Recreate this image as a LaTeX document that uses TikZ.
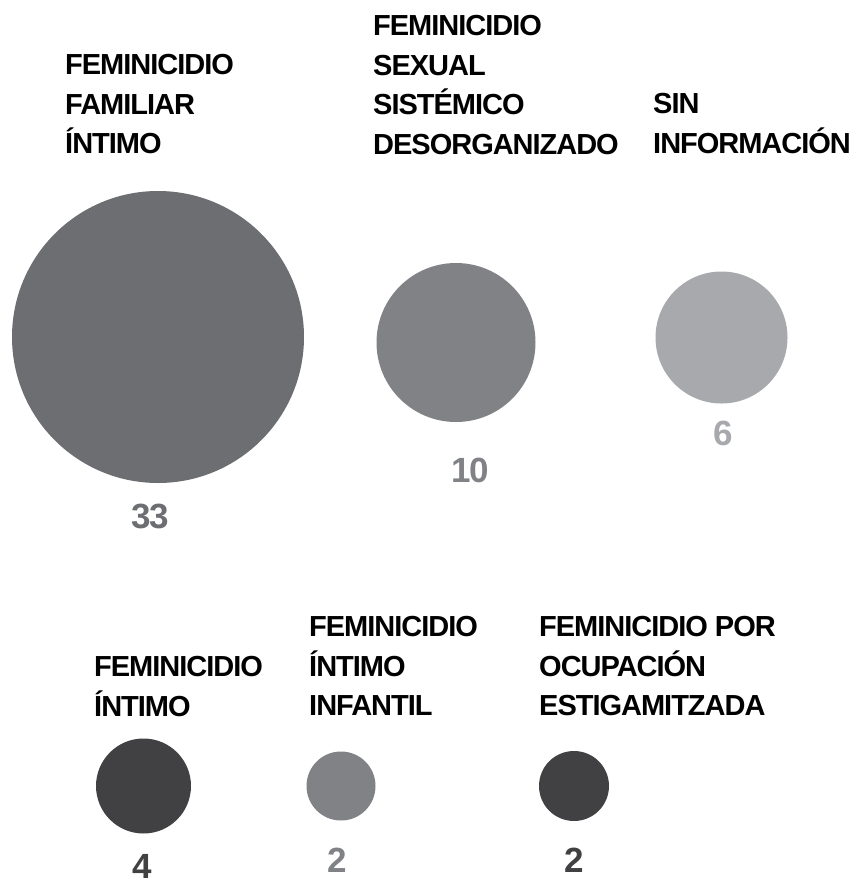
\documentclass[tikz,border=0pt]{standalone}
\usepackage{fontspec}
\setmainfont{Liberation Sans}
\newfontfamily\tightfont[LetterSpace=-3.5]{Liberation Sans}
\definecolor{gA}{HTML}{6D6E71}
\definecolor{gB}{HTML}{808285}
\definecolor{gC}{HTML}{A7A9AC}
\definecolor{gD}{HTML}{414042}
\begin{document}
\begin{tikzpicture}[x=1pt,y=-1pt,
  bubble/.style={circle,inner sep=0pt,outer sep=0pt,draw=none},
  label/.style={anchor=north west,inner sep=0pt,align=left,text=black,
    font=\tightfont\fontsize{29}{39.5}\selectfont\bfseries},
  count/.style={anchor=base,inner sep=0pt,font=\tightfont\fontsize{35}{40}\selectfont\bfseries}]
\useasboundingbox (0,0) rectangle (855,884);
% circles
\node[bubble,fill=gA,minimum size=292pt] (cA) at (158,337) {};
\node[bubble,fill=gB,minimum size=159pt] (cB) at (456,342.5) {};
\node[bubble,fill=gC,minimum size=132pt] (cC) at (721.5,337.5) {};
\node[bubble,fill=gD,minimum size=95pt] (cD) at (143.5,786) {};
\node[bubble,fill=gB,minimum size=69pt] (cE) at (341,786) {};
\node[bubble,fill=gD,minimum size=70pt] (cF) at (574,786) {};
% labels
\node[label] (tA) at (65,54.5) {FEMINICIDIO\\FAMILIAR\\ÍNTIMO};
\node[label] (tB) at (373,15.5) {FEMINICIDIO\\SEXUAL\\SISTÉMICO\\DESORGANIZADO};
\node[label] (tC) at (653,93.5) {SIN\\INFORMACIÓN};
\node[label] (tD) at (94,656.5) {FEMINICIDIO\\ÍNTIMO};
\node[label] (tE) at (309,616.5) {FEMINICIDIO\\ÍNTIMO\\INFANTIL};
\node[label] (tF) at (539,616.5) {FEMINICIDIO POR\\OCUPACIÓN\\ESTIGAMITZADA};
% counts
\node[count,text=gA] (nA) at (150,528) {33};
\node[count,text=gB] (nB) at (470,482) {10};
\node[count,text=gC] (nC) at (723,445) {6};
\node[count,text=gD] (nD) at (142.5,878) {4};
\node[count,text=gB] (nE) at (337,872) {2};
\node[count,text=gD] (nF) at (574,872) {2};
\end{tikzpicture}
\end{document}
